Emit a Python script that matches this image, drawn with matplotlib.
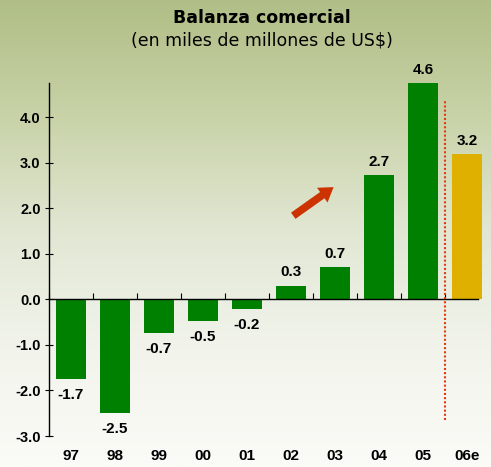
import numpy as np
import matplotlib.pyplot as plt
from matplotlib.colors import LinearSegmentedColormap

# datos
years = ['97', '98', '99', '00', '01', '02', '03', '04', '05', '06e']
values = [-1.74, -2.49, -0.73, -0.47, -0.21, 0.30, 0.71, 2.73, 4.75, 3.19]
labels = ['-1.7', '-2.5', '-0.7', '-0.5', '-0.2', '0.3', '0.7', '2.7', '4.6', '3.2']
yticks = [-3.0, -2.0, -1.0, 0.0, 1.0, 2.0, 3.0, 4.0]
colors = ['#008000'] * 9 + ['#dfb000']

fig = plt.figure(figsize=(4.91, 4.67), dpi=100)

# fond degrade vert -> blanc
bg = fig.add_axes([0, 0, 1, 1], zorder=0)
cmap = LinearSegmentedColormap.from_list('bg', ['#b0be86', '#c8d3a8', '#e2e7d4', '#f2f4ec', '#fbfbf7'])
grad = np.linspace(0, 1, 256).reshape(-1, 1)
bg.imshow(grad, cmap=cmap, aspect='auto', extent=[0, 1, 0, 1])
bg.axis('off')

ax = fig.add_axes([49 / 491, 31 / 467, 440 / 491, 353 / 467], zorder=1)
ax.patch.set_alpha(0)
x = np.arange(len(years))
ax.bar(x, values, width=0.7, color=colors, zorder=2)

ax.set_xlim(-0.5, 9.5)
ax.set_ylim(-3.0, 4.75)

for sp in ['top', 'right']:
    ax.spines[sp].set_visible(False)
ax.spines['bottom'].set_position(('data', 0))
ax.spines['bottom'].set_bounds(-0.5, 9.25)
ax.spines['bottom'].set_linewidth(1.0)
ax.spines['left'].set_linewidth(1.0)

ax.set_xticks(np.arange(-0.5, 9.0, 1.0))
ax.set_xticklabels([])
ax.tick_params(axis='x', direction='in', length=4)
ax.set_yticks(yticks)
ax.set_yticklabels([f'{t:.1f}' for t in yticks], fontweight='bold', fontsize=10.5,
                   family='Liberation Sans')
ax.tick_params(axis='y', direction='inout', length=6, pad=3)

# etiquetas de los anos
for i, yr in enumerate(years):
    ax.text(i, -3.45, yr, ha='center', va='center', fontsize=11, fontweight='bold',
            family='Liberation Sans', clip_on=False)

# valores
for i, (v, lab) in enumerate(zip(values, labels)):
    if v >= 0:
        ax.text(i, v + 0.14, lab, ha='center', va='bottom', fontsize=11,
                fontweight='bold', family='Liberation Sans')
    else:
        ax.text(i, v - 0.2, lab, ha='center', va='top', fontsize=11,
                fontweight='bold', family='Liberation Sans')

# linea punteada 2006
ax.plot([8.5, 8.5], [-2.64, 4.35], color='#e03c10', linestyle=(0, (1, 1)), linewidth=1.5, zorder=3)

# flecha
ax.annotate('', xy=(6.02, 2.50), xytext=(5.0, 1.80),
            arrowprops=dict(arrowstyle='simple,head_width=1.3,head_length=1.0,tail_width=0.55',
                            color='#cc3300', lw=0))

fig.text(262 / 491, 1 - 18 / 467, 'Balanza comercial', ha='center', va='center',
         fontsize=12.5, fontweight='bold')
fig.text(262 / 491, 1 - 41 / 467, '(en miles de millones de US$)', ha='center', va='center',
         fontsize=12.5)

plt.savefig('out.png', dpi=100)
